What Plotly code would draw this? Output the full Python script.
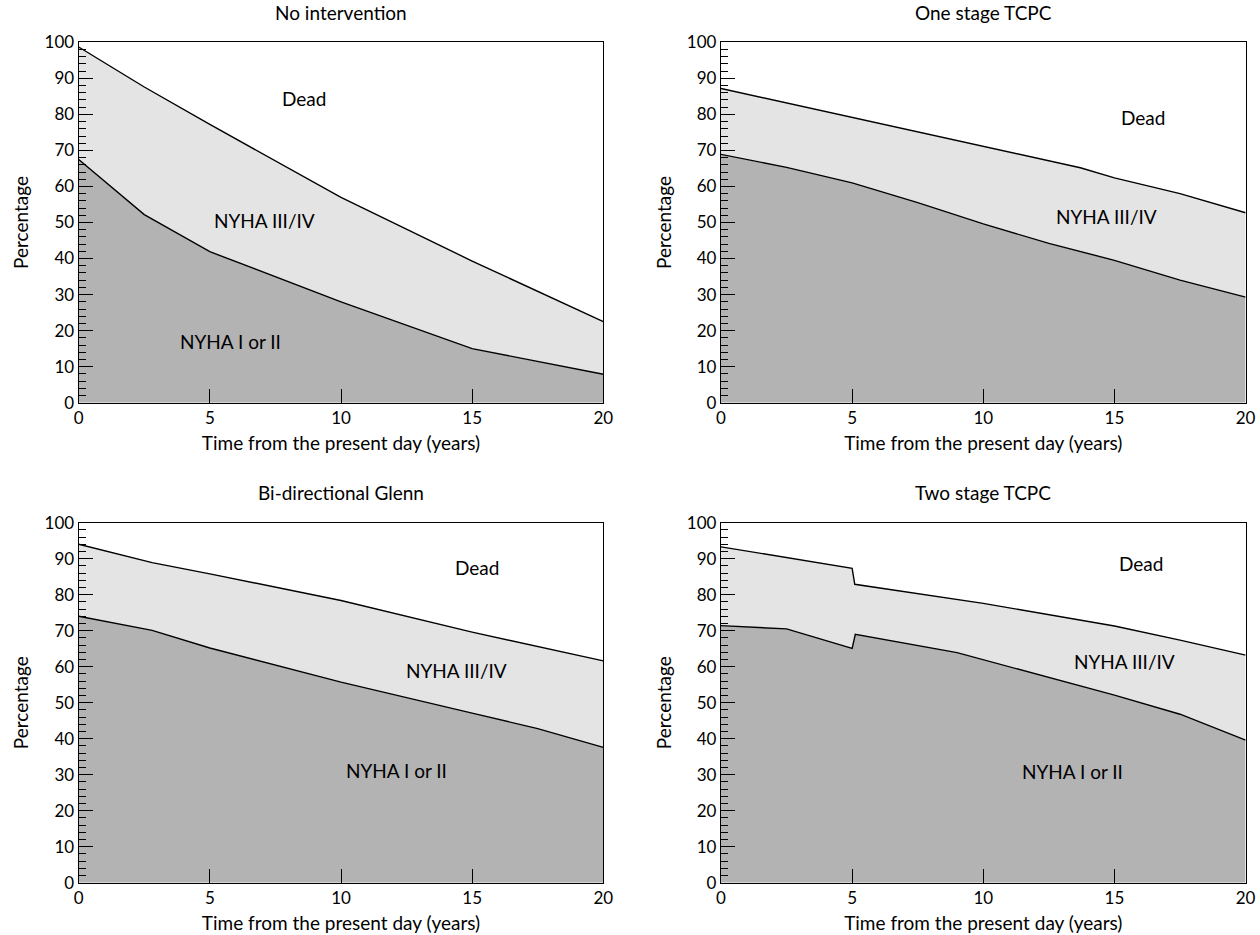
import plotly.graph_objects as go

# ---------------- data ----------------
titles = ["No intervention", "One stage TCPC", "Bi-directional Glenn", "Two stage TCPC"]

ni_up_x = [0, 2.5, 5, 10, 15, 20]
ni_up_y = [98.7, 87.6, 77.2, 57.0, 39.3, 22.5]
ni_lo_x = [0, 2.5, 5, 10, 15, 20]
ni_lo_y = [67.5, 52.2, 41.9, 28.0, 15.0, 7.9]

os_up_x = [0, 2.5, 5, 10, 13.7, 15, 17.5, 20]
os_up_y = [87.2, 83.2, 79.3, 71.2, 65.2, 62.4, 58.0, 52.7]
os_lo_x = [0, 2.5, 5, 7.5, 10, 12.5, 15, 17.5, 20]
os_lo_y = [68.9, 65.3, 61.0, 55.5, 49.6, 44.2, 39.5, 34.0, 29.3]

gl_up_x = [0, 2.8, 5, 10, 15, 17.5, 20]
gl_up_y = [94.0, 88.9, 85.8, 78.4, 69.6, 65.5, 61.6]
gl_lo_x = [0, 2.8, 5, 10, 15, 17.5, 20]
gl_lo_y = [74.0, 70.1, 65.2, 55.7, 47.1, 42.8, 37.6]

ts_up_x = [0, 5, 5.1, 10, 15, 17.5, 20]
ts_up_y = [93.3, 87.3, 82.9, 77.6, 71.3, 67.4, 63.2]
ts_lo_x = [0, 2.5, 5, 5.12, 9, 15, 17.5, 20]
ts_lo_y = [71.4, 70.5, 65.1, 69.0, 63.9, 52.1, 46.8, 39.6]

# region labels: (text, x, y) per panel
ni_labels = [("Dead", 8.6, 84.4), ("NYHA III/IV", 7.1, 50.6), ("NYHA I or II", 5.8, 16.9)]
os_labels = [("Dead", 16.1, 79.2), ("NYHA III/IV", 14.7, 51.8)]
gl_labels = [("Dead", 15.2, 87.5), ("NYHA III/IV", 14.4, 59.0), ("NYHA I or II", 12.1, 31.2)]
ts_labels = [("Dead", 16.0, 88.7), ("NYHA III/IV", 15.4, 61.4), ("NYHA I or II", 13.4, 31.0)]

x_title = "Time from the present day (years)"
y_title = "Percentage"

# ---------------- style ----------------
W, H = 1260, 935
FONT = "Lato, 'Open Sans', sans-serif"
DARK = "#b3b3b3"
LIGHT = "#e4e4e4"
TXT = 19
TICK = 17

# pixel boxes of the plot areas (left, right, top, bottom)
boxes = [(78.7, 603.3, 42.3, 402.7), (721.0, 1245.6, 42.3, 402.7),
         (78.7, 603.3, 522.7, 882.7), (721.0, 1245.6, 522.7, 882.7)]

panels = [
    (ni_up_x, ni_up_y, ni_lo_x, ni_lo_y, ni_labels),
    (os_up_x, os_up_y, os_lo_x, os_lo_y, os_labels),
    (gl_up_x, gl_up_y, gl_lo_x, gl_lo_y, gl_labels),
    (ts_up_x, ts_up_y, ts_lo_x, ts_lo_y, ts_labels),
]

fig = go.Figure()
annotations = []
layout = {}
for i, (ux, uy, lx, ly, labels) in enumerate(panels):
    n = "" if i == 0 else str(i + 1)
    xa, ya = "x" + n, "y" + n
    # fills
    fig.add_trace(go.Scatter(x=lx, y=ly, mode="lines", fill="tozeroy", fillcolor=DARK,
                             line=dict(width=0, color=DARK), xaxis=xa, yaxis=ya,
                             showlegend=False, hoverinfo="skip"))
    fig.add_trace(go.Scatter(x=ux, y=uy, mode="lines", fill="tonexty", fillcolor=LIGHT,
                             line=dict(width=0, color=LIGHT), xaxis=xa, yaxis=ya,
                             showlegend=False, hoverinfo="skip"))
    # outlines
    fig.add_trace(go.Scatter(x=lx, y=ly, mode="lines", line=dict(width=1.4, color="black"),
                             xaxis=xa, yaxis=ya, showlegend=False))
    fig.add_trace(go.Scatter(x=ux, y=uy, mode="lines", line=dict(width=1.4, color="black"),
                             xaxis=xa, yaxis=ya, showlegend=False))

    l, r, t, b = boxes[i]
    xdom = [l / W, r / W]
    ydom = [1 - b / H, 1 - t / H]
    layout["xaxis" + n] = dict(
        domain=xdom, range=[0, 20], anchor=ya, tickmode="array", automargin=False,
        tickvals=[0, 5, 10, 15, 20], ticks="inside", ticklen=14, tickwidth=1.3,
        tickcolor="black", showline=True, linecolor="black", linewidth=1.3, mirror=True,
        showgrid=False, zeroline=False, fixedrange=True,
        tickfont=dict(family=FONT, size=TICK, color="black"),
        title=dict(text=x_title, font=dict(family=FONT, size=TXT, color="black"), standoff=9),
    )
    layout["yaxis" + n] = dict(
        domain=ydom, range=[0, 100], anchor=xa, tickmode="array", automargin=False,
        tickvals=list(range(0, 101, 10)), ticks="inside", ticklen=14, tickwidth=1.3,
        tickcolor="black", showline=True, linecolor="black", linewidth=1.3, mirror=True,
        showgrid=False, zeroline=False, fixedrange=True,
        minor=dict(dtick=2, ticks="inside", ticklen=7, tickwidth=1.1, tickcolor="black",
                   showgrid=False),
        tickfont=dict(family=FONT, size=TICK, color="black"),
        title=dict(text=y_title, font=dict(family=FONT, size=TXT, color="black"), standoff=10),
    )
    annotations.append(dict(text=titles[i], x=(xdom[0] + xdom[1]) / 2, y=1 - (t - 30) / H,
                            xref="paper", yref="paper", showarrow=False,
                            xanchor="center", yanchor="middle",
                            font=dict(family=FONT, size=TXT, color="black")))
    for txt, tx, ty in labels:
        annotations.append(dict(text=txt, x=tx, y=ty, xref=xa, yref=ya, showarrow=False,
                                xanchor="center", yanchor="middle",
                                font=dict(family=FONT, size=TXT, color="black")))

fig.update_layout(
    template="none",
    width=W, height=H, margin=dict(l=0, r=0, t=0, b=0, autoexpand=False),
    paper_bgcolor="white", plot_bgcolor="white",
    annotations=annotations, showlegend=False,
    **layout,
)
fig.write_html(
    "out.html",
    config={"displayModeBar": False},
    post_script="document.body.style.margin='0';document.body.style.overflow='hidden';",
)
